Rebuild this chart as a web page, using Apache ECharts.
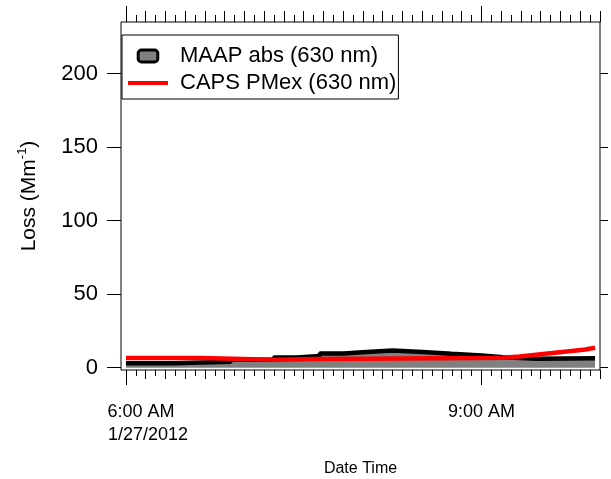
<!DOCTYPE html>
<html>
<head>
<meta charset="utf-8">
<script src="https://cdn.jsdelivr.net/npm/echarts@6/dist/echarts.min.js"></script>
<style>
html,body{margin:0;padding:0;background:#fff;}
#chart{width:611px;height:479px;}
</style>
</head>
<body>
<div id="chart"></div>
<script>
// Time in minutes after 6:00 AM on 1/27/2012
var maapTimes  = [0, 23.8, 53.1, 74.8, 86.4, 98.1, 110.2, 121.8, 135, 150.2, 164.8, 180, 191.1, 207.8, 237.5];
var maapValues = [3.0, 4.0, 5.4, 6.9, 8.0, 9.6, 10.6, 11.7, 10.6, 9.4, 8.3, 7.0, 6.0, 6.4, 6.4];
var capsTimes  = [0, 37.9, 75.3, 98.1, 180, 190.6, 199.2, 207.8, 215.9, 224.5, 232.6, 237.5];
var capsValues = [6.6, 5.4, 5.8, 6.5, 6.8, 7.6, 8.8, 9.9, 11.2, 12.4, 13.5, 13.5];

var seriesNames = ['MAAP abs (630 nm)', 'CAPS PMex (630 nm)'];
var xMajorTicks = [0, 180];
var xMajorLabels = ['6:00 AM\n1/27/2012', '9:00 AM'];
var yTicks = [0, 50, 100, 150, 200];
var xRange = [-2.5, 240];
var yRange = [-1.6, 235];

var tick10 = [], tick5 = [];
for (var m = 0; m <= 240; m += 5) {
  if (xMajorTicks.indexOf(m) >= 0) continue;
  if (m % 10 === 0) tick10.push(m); else tick5.push(m);
}

function zip(a, b) { return a.map(function (v, i) { return [v, b[i]]; }); }

var FONT = 'Arial, "Liberation Sans", sans-serif';

function tickAxis(pos, values, len) {
  return {
    type: 'value', gridIndex: 0, position: pos, min: xRange[0], max: xRange[1],
    axisLine: { show: false, onZero: false },
    axisTick: { show: true, customValues: values, length: len, lineStyle: { color: '#000', width: 1 } },
    axisLabel: { show: false },
    splitLine: { show: false }
  };
}

var chart = echarts.init(document.getElementById('chart'), null, { renderer: 'canvas' });

var option = {
  animation: false,
  backgroundColor: '#fff',
  textStyle: { fontFamily: FONT, color: '#000' },
  grid: {
    left: 121, right: 11, top: 22, bottom: 109,
    containLabel: false, outerBoundsMode: 'none',
    show: true, borderColor: '#000', borderWidth: 1, backgroundColor: 'transparent'
  },
  legend: {
    orient: 'vertical', left: 122, top: 35,
    padding: [10, 2, 5, 6], itemGap: 5,
    itemWidth: 40, itemHeight: 12,
    borderColor: '#000', borderWidth: 1, backgroundColor: '#fff',
    textStyle: { fontFamily: FONT, fontSize: 22, color: '#000', padding: [0, 0, 0, 7] },
    data: [
      { name: seriesNames[0],
        icon: 'path://M3,0H15A3,3 0 0 1 18,3V8A3,3 0 0 1 15,11H3A3,3 0 0 1 0,8V3A3,3 0 0 1 3,0Z',
        itemStyle: { color: '#808080', borderColor: '#000', borderWidth: 3 } },
      { name: seriesNames[1], icon: 'path://M0,0H40V4H0Z', itemStyle: { color: '#ff0000' } }
    ]
  },
  xAxis: [
    {
      type: 'value', gridIndex: 0, position: 'bottom', min: xRange[0], max: xRange[1],
      axisLine: { show: false, onZero: false },
      axisTick: { show: true, customValues: xMajorTicks, length: 15, lineStyle: { color: '#000', width: 1 } },
      axisLabel: {
        show: true, customValues: xMajorTicks, margin: 31,
        fontFamily: FONT, fontSize: 18, color: '#000',
        formatter: function (v) {
          var i = xMajorTicks.indexOf(v);
          if (i < 0) return '';
          var parts = xMajorLabels[i].split('\n');
          if (parts.length > 1) {
            return '{p1| }{a|' + parts[0] + '}\n{p2| }{a|' + parts[1] + '}';
          }
          return '{b|' + parts[0] + '}';
        },
        rich: {
          p1: { width: 30, fontSize: 18, lineHeight: 23 },
          p2: { width: 44, fontSize: 18, lineHeight: 23 },
          a: { fontSize: 18, lineHeight: 23, fontFamily: FONT, color: '#000' },
          b: { fontSize: 18, lineHeight: 23, fontFamily: FONT, color: '#000' }
        }
      },
      splitLine: { show: false },
      name: 'Date Time', nameLocation: 'middle', nameGap: 91,
      nameTextStyle: { fontFamily: FONT, fontSize: 16, color: '#000' }
    },
    tickAxis('bottom', tick10, 9),
    tickAxis('bottom', tick5, 6),
    tickAxis('top', xMajorTicks, 16),
    tickAxis('top', tick10, 11),
    tickAxis('top', tick5, 7)
  ],
  yAxis: [
    {
      type: 'value', gridIndex: 0, position: 'left', min: yRange[0], max: yRange[1],
      axisLine: { show: false, onZero: false },
      axisTick: { show: true, customValues: yTicks, length: 14, lineStyle: { color: '#000', width: 1 } },
      axisLabel: { show: true, customValues: yTicks, margin: 23, fontFamily: FONT, fontSize: 22, color: '#000' },
      splitLine: { show: false },
      name: 'Loss (Mm{s|-1})', nameLocation: 'middle', nameGap: 78,
      nameTextStyle: {
        fontFamily: FONT, fontSize: 21, color: '#000',
        rich: { s: { fontSize: 13, fontFamily: FONT, color: '#000', padding: [0, 0, 14, 0] } }
      }
    },
    {
      type: 'value', gridIndex: 0, position: 'right', min: yRange[0], max: yRange[1],
      axisLine: { show: false, onZero: false },
      axisTick: { show: true, customValues: yTicks, length: 8, lineStyle: { color: '#000', width: 1 } },
      axisLabel: { show: false },
      splitLine: { show: false }
    }
  ],
  series: [
    {
      name: seriesNames[0], type: 'line', step: 'end', xAxisIndex: 0, yAxisIndex: 0,
      data: zip(maapTimes, maapValues), symbol: 'none', showSymbol: false,
      itemStyle: { color: '#000' },
      lineStyle: { color: '#000', width: 4.5 },
      areaStyle: { color: '#808080', opacity: 1, origin: 'auto' },
      z: 2
    },
    {
      name: seriesNames[1], type: 'line', step: 'end', xAxisIndex: 0, yAxisIndex: 0,
      data: zip(capsTimes, capsValues), symbol: 'none', showSymbol: false,
      itemStyle: { color: '#ff0000' },
      lineStyle: { color: '#ff0000', width: 4.5 },
      z: 3
    }
  ]
};
chart.setOption(option);
</script>
</body>
</html>
